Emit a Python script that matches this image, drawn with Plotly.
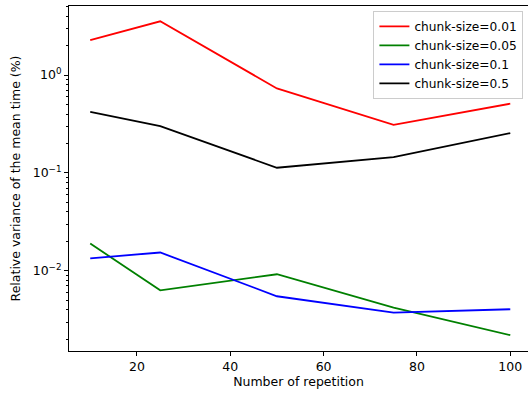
import plotly.graph_objects as go

# Number of repetitions used for each measurement
repetitions = [10, 25, 50, 75, 100]

# Relative variance of the mean time (%) for each chunk size
var_chunk_001 = [2.28, 3.54, 0.73, 0.31, 0.51]
var_chunk_005 = [0.0190, 0.00633, 0.00923, 0.00421, 0.00220]
var_chunk_01 = [0.0134, 0.0154, 0.0055, 0.00374, 0.00405]
var_chunk_05 = [0.42, 0.30, 0.113, 0.145, 0.255]

series_names = ["chunk-size=0.01", "chunk-size=0.05", "chunk-size=0.1", "chunk-size=0.5"]
series_values = [var_chunk_001, var_chunk_005, var_chunk_01, var_chunk_05]
series_colors = ["#ff0000", "#008000", "#0000ff", "#000000"]

major_tick_vals = [1e-2, 1e-1, 1e0]
major_tick_text = ["10<sup>−2</sup>", "10<sup>−1</sup>", "10<sup>0</sup>"]
minor_tick_vals = [m * 10.0 ** e for e in (-3, -2, -1, 0) for m in range(2, 10)]

font_family = "DejaVu Sans"
font_size = 12.5

fig = go.Figure()
for name, values, color in zip(series_names, series_values, series_colors):
    fig.add_trace(go.Scatter(
        x=repetitions, y=values, mode="lines", name=name,
        line=dict(color=color, width=1.8),
    ))

fig.update_layout(
    width=528, height=395,
    margin=dict(l=69, r=0, t=6, b=44),
    paper_bgcolor="white", plot_bgcolor="white",
    font=dict(family=font_family, size=font_size, color="black"),
    showlegend=True,
    legend=dict(
        x=0.99, y=0.986, xanchor="right", yanchor="top",
        bgcolor="white", bordercolor="#cccccc", borderwidth=1,
        font=dict(family=font_family, size=12.2, color="black"),
        tracegroupgap=0, itemwidth=30,
    ),
)

fig.update_xaxes(
    range=[5.45, 103.8],
    tickvals=[20, 40, 60, 80, 100],
    showgrid=False, zeroline=False,
    showline=True, linecolor="black", linewidth=1, mirror=True,
    ticks="outside", ticklen=4, tickwidth=1, tickcolor="black",
    title=dict(text="Number of repetition", standoff=4,
               font=dict(family=font_family, size=font_size)),
)

fig.update_yaxes(
    type="log",
    range=[-2.819, 0.7055],
    tickvals=major_tick_vals, ticktext=major_tick_text,
    showgrid=False, zeroline=False,
    showline=True, linecolor="black", linewidth=1, mirror=False,
    ticks="outside", ticklen=4, tickwidth=1, tickcolor="black",
    minor=dict(tickvals=minor_tick_vals, ticks="outside", ticklen=2,
               tickwidth=0.8, tickcolor="black", showgrid=False),
    title=dict(text="Relative variance of the mean time (%)", standoff=9,
               font=dict(family=font_family, size=font_size)),
)

fig.write_html("out.html")
